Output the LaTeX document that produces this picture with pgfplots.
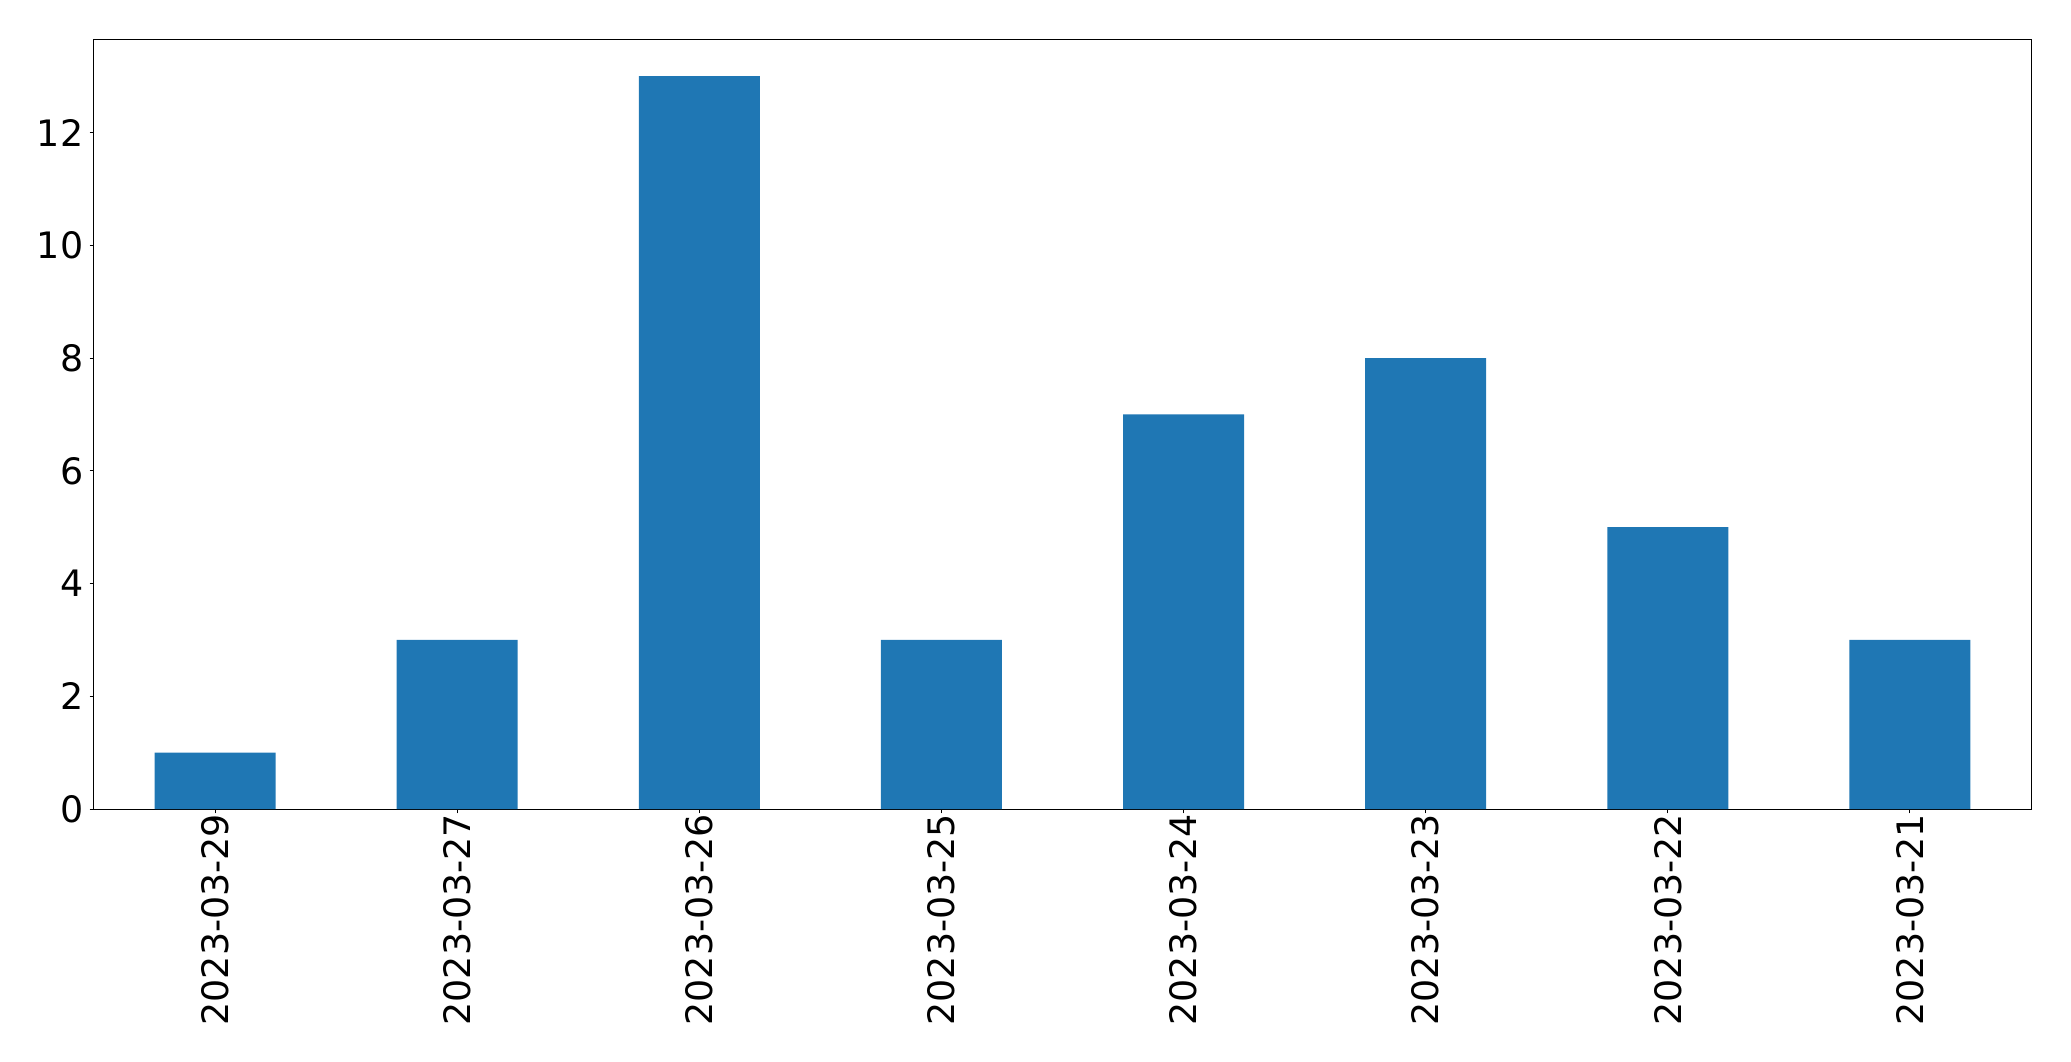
\documentclass[border=0pt]{standalone}
\usepackage{pgfplots}
\pgfplotsset{compat=1.18}
\usepackage{fontspec}
\setmainfont{DejaVu Sans}
\definecolor{mplblue}{HTML}{1F77B4}
\begin{document}
\begin{tikzpicture}
\begin{axis}[
  at={(0,0)}, anchor=south west,
  scale only axis,
  width=968.5pt, height=384.75pt,
  xmin=-0.5, xmax=7.5, ymin=0, ymax=13.65,
  xtick={0,1,2,3,4,5,6,7},
  xticklabels={2023-03-29,2023-03-27,2023-03-26,2023-03-25,2023-03-24,2023-03-23,2023-03-22,2023-03-21},
  ytick={0,2,4,6,8,10,12},
  tick align=outside,
  major tick length=2.2pt,
  tick style={black, line width=0.5pt},
  axis line style={line width=0.5pt},
  xtick pos=bottom, ytick pos=left,
  /pgf/number format/assume math mode=true,
  ticklabel style={font=\fontsize{18.2}{22}\selectfont},
  xticklabel style={rotate=90, anchor=east, inner sep=0pt},
  yticklabel style={anchor=east, inner sep=0pt, xshift=-3pt},
]
\addplot[ybar, bar width=0.5, fill=mplblue, draw=none] coordinates {
  (0,1) (1,3) (2,13) (3,3) (4,7) (5,8) (6,5) (7,3)
};
\end{axis}
\path[use as bounding box] (-47pt,-126pt) rectangle (988.5pt,404.5pt);
\end{tikzpicture}
\end{document}
